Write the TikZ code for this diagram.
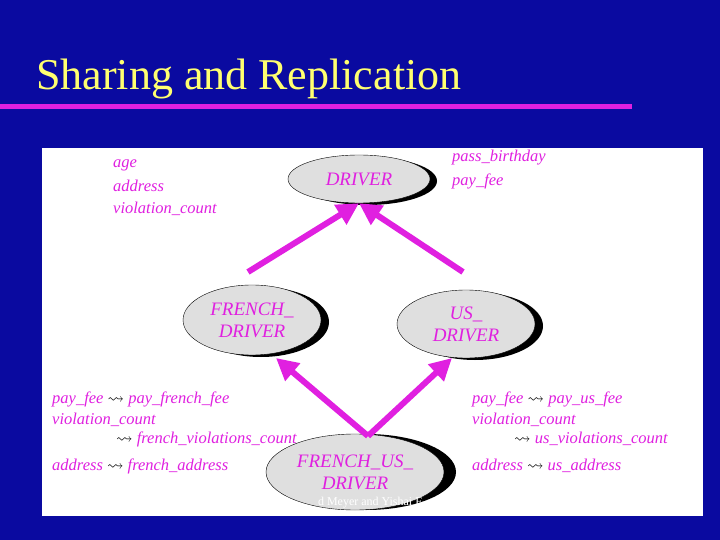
\documentclass[tikz,border=0pt]{standalone}
\usepackage{amssymb}
\usepackage{fontspec}
\setmainfont{Liberation Serif}
\usetikzlibrary{arrows.meta,shapes.geometric}
\definecolor{bgblue}{HTML}{0A0AA0}
\definecolor{mag}{HTML}{E020E0}
\definecolor{ttl}{HTML}{FFFF70}
\tikzset{
  cls/.style={ellipse,draw=black,fill=gray!25,minimum width=#1,text=mag,font=\itshape\fontsize{19}{22}\selectfont,align=center,inner sep=0pt},
  lbl/.style={anchor=west,text=mag,font=\itshape\fontsize{16.5}{17}\selectfont,inner sep=0pt},
  inh/.style={line width=6pt,draw=mag,-{Triangle[length=22pt,width=22pt]}},
}
\begin{document}
\begin{tikzpicture}[x=1pt,y=-1pt]
\fill[bgblue] (0,0) rectangle (720,540);
\useasboundingbox (0,0) rectangle (720,540);
\node[anchor=west,text=ttl,font=\fontsize{44}{48}\selectfont,inner sep=0pt] (title) at (36,79) {Sharing and Replication};
\fill[mag] (0,104) rectangle (632,109);
\fill[white] (42,148) rectangle (703,516);
\begin{scope}
\clip (42,148) rectangle (703,516);
\fill[black] (367,181) ellipse (70 and 24);
\fill[black] (261,322) ellipse (68 and 35);
\fill[black] (475,326) ellipse (68 and 34);
\fill[black] (366,472) ellipse (90 and 38);
\node[cls=142pt,minimum height=48pt] (driver) at (359,179) {DRIVER};
\node[cls=138pt,minimum height=70pt] (fd) at (252,320) {FRENCH\_\\DRIVER};
\node[cls=138pt,minimum height=68pt] (ud) at (466,324) {US\_\\DRIVER};
\node[cls=178pt,minimum height=76pt] (fud) at (355,472) {FRENCH\_US\_\\DRIVER};
\end{scope}
\coordinate (j) at (368,436);
\draw[inh] (248,272) -- (driver.south);
\draw[inh] (463,272) -- (driver.south);
\draw[inh] (j) -- (276,358);
\draw[inh] (j) -- (452,358);
\node[lbl] (l1) at (113,165) {age};
\node[lbl] (l2) at (113,186) {address};
\node[lbl] (l3) at (113,209) {violation\_count};
\node[lbl] (r1) at (452,158) {pass\_birthday};
\node[lbl] (r2) at (452,181) {pay\_fee};
\newcommand{\sq}{\textcolor{black}{\upshape$\leadsto$}}
\node[lbl] (b1) at (52,399) {pay\_fee \sq\ pay\_french\_fee};
\node[lbl] (b2) at (52,420) {violation\_count};
\node[lbl] (b3) at (116,439) {\sq\ french\_violations\_count};
\node[lbl] (b4) at (52,466) {address \sq\ french\_address};
\node[lbl] (c1) at (472,399) {pay\_fee \sq\ pay\_us\_fee};
\node[lbl] (c2) at (472,420) {violation\_count};
\node[lbl] (c3) at (514,439) {\sq\ us\_violations\_count};
\node[lbl] (c4) at (472,466) {address \sq\ us\_address};
\node[text=white,font=\fontsize{12}{12}\selectfont,inner sep=0pt] (foot) at (370,503) {d Meyer and Yishai F};
\end{tikzpicture}
\end{document}
